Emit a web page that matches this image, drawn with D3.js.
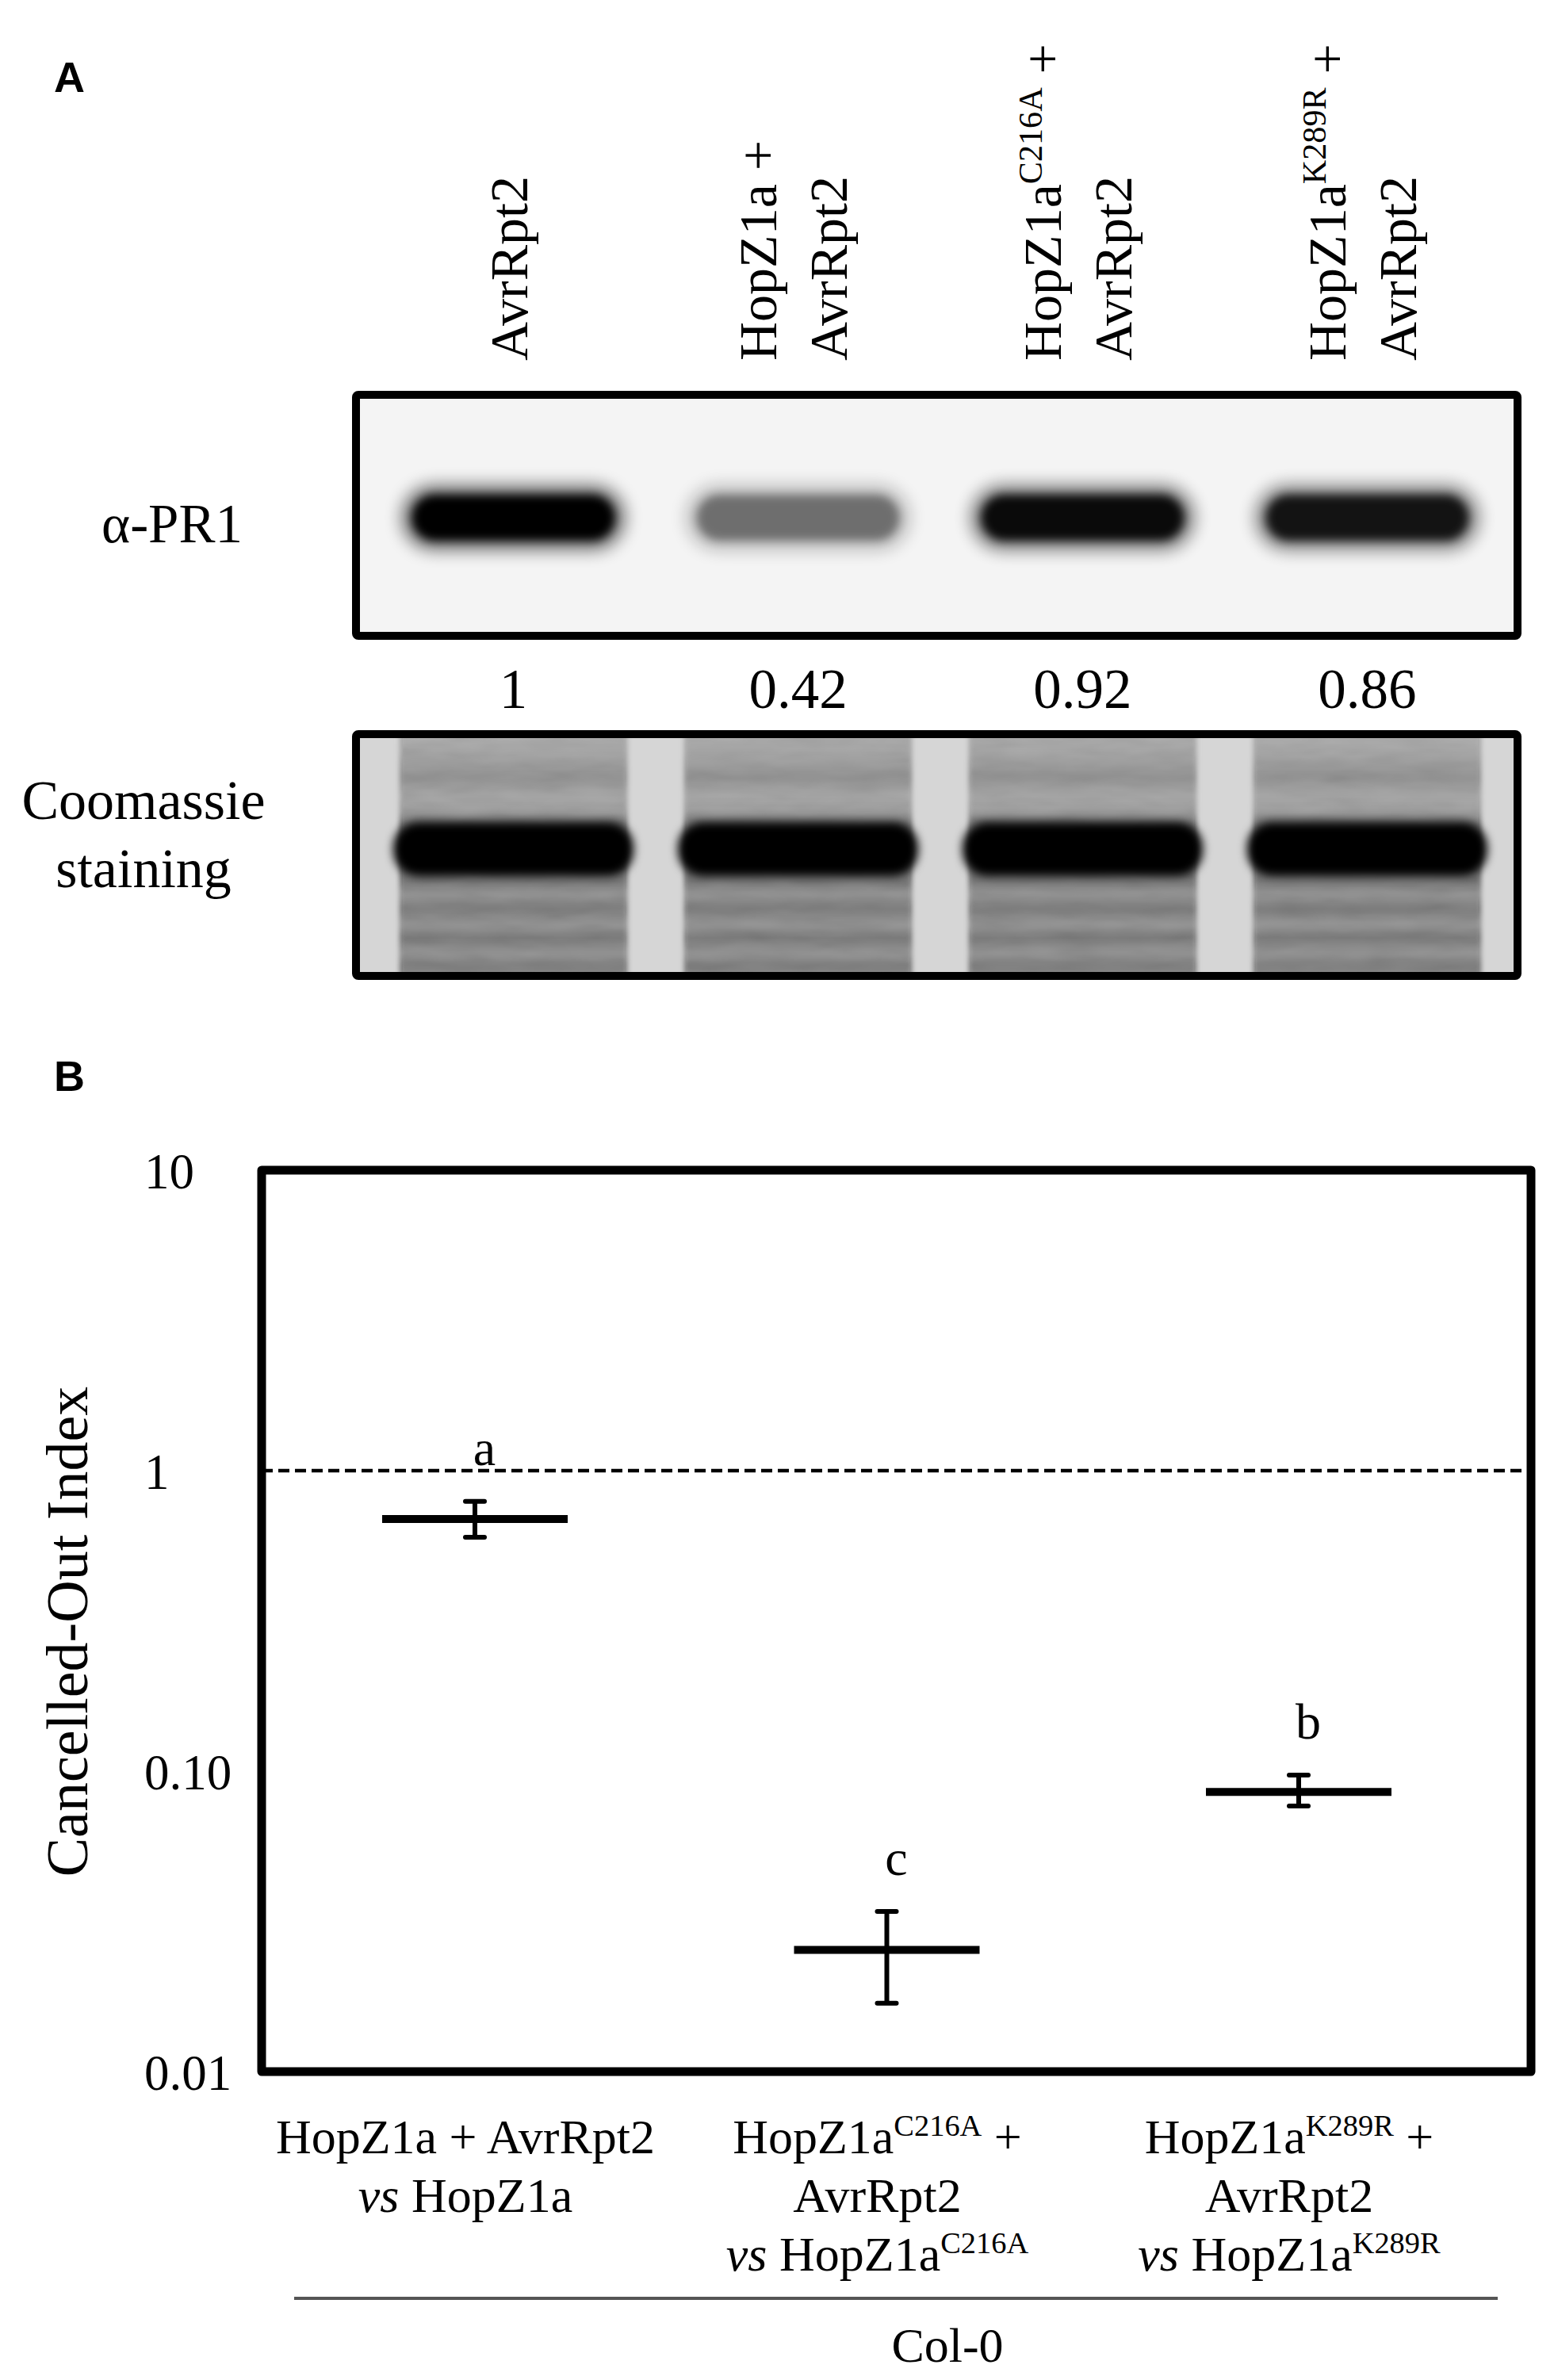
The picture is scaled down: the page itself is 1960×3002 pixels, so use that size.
<!DOCTYPE html>
<html>
<head>
<meta charset="utf-8">
<title>PR1 accumulation and Cancelled-Out Index</title>
<script src="https://cdn.jsdelivr.net/npm/d3@7"></script>
<style>
  body { margin: 0; background: #fff; }
  text { font-family: "Liberation Serif", "Times New Roman", serif; fill: #000; white-space: pre; }
  .panel { font-family: "Liberation Sans", Arial, sans-serif; font-weight: bold; }
</style>
</head>
<body>
<script>
// ---- panel A data ----
var lanes = ["AvrRpt2", "HopZ1a + AvrRpt2", "HopZ1aC216A + AvrRpt2", "HopZ1aK289R + AvrRpt2"];
var laneLabels = [
  [[{t: "AvrRpt2"}]],
  [[{t: "HopZ1a +"}], [{t: "AvrRpt2"}]],
  [[{t: "HopZ1a"}, {t: "C216A", sup: true}, {t: " +"}], [{t: "AvrRpt2"}]],
  [[{t: "HopZ1a"}, {t: "K289R", sup: true}, {t: " +"}], [{t: "AvrRpt2"}]]
];
var pr1Ratio = [1, 0.42, 0.92, 0.86];
var ratioLabels = ["1", "0.42", "0.92", "0.86"];

// ---- panel B data ----
var groups = ["g1", "g2", "g3"];
var groupLabels = [
  [[{t: "HopZ1a + AvrRpt2"}], [{t: "vs", it: true}, {t: " HopZ1a"}]],
  [[{t: "HopZ1a"}, {t: "C216A", sup: true}, {t: " +"}], [{t: "AvrRpt2"}], [{t: "vs", it: true}, {t: " HopZ1a"}, {t: "C216A", sup: true}]],
  [[{t: "HopZ1a"}, {t: "K289R", sup: true}, {t: " +"}], [{t: "AvrRpt2"}], [{t: "vs", it: true}, {t: " HopZ1a"}, {t: "K289R", sup: true}]]
];
var coiMean = [0.69, 0.0254, 0.0853];
var coiLow  = [0.60, 0.0169, 0.0765];
var coiHigh = [0.79, 0.0341, 0.097];
var sigLetters = ["a", "c", "b"];
var yTicks = [0.01, 0.1, 1, 10];
var yTickLabels = ["0.01", "0.10", "1", "10"];

var W = 1960, H = 3002;
var svg = d3.select("body").append("svg").attr("width", W).attr("height", H);
var defs = svg.append("defs");

function blur(id, sd) {
  defs.append("filter").attr("id", id)
    .attr("x", "-50%").attr("y", "-50%").attr("width", "200%").attr("height", "200%")
    .append("feGaussianBlur").attr("stdDeviation", sd);
}
blur("b10", 10); blur("b6", 6); blur("b3", 3);

// mottled texture for the stained gel
var nf = defs.append("filter").attr("id", "mottle").attr("x", 0).attr("y", 0).attr("width", "100%").attr("height", "100%");
nf.append("feTurbulence").attr("type", "fractalNoise").attr("baseFrequency", "0.018 0.07")
  .attr("numOctaves", 2).attr("seed", 7);
nf.append("feColorMatrix").attr("type", "matrix")
  .attr("values", "0.33 0.33 0.33 0 0  0.33 0.33 0.33 0 0  0.33 0.33 0.33 0 0  0 0 0 0 1");

// write a line made of plain / superscript / italic pieces
function richLine(sel, segs, fs) {
  var up = 0;
  segs.forEach(function(s) {
    var ts = sel.append("tspan").text(s.t);
    if (s.sup) {
      ts.attr("font-size", fs * 0.62).attr("dy", -fs * 0.36);
      up = fs * 0.36;
    } else {
      if (up) { ts.attr("dy", up); up = 0; }
      if (s.it) ts.attr("font-style", "italic");
    }
  });
}

// ================= PANEL A =================
svg.append("text").attr("class", "panel").attr("x", 68).attr("y", 116)
  .style("font-size", "54px").text("A");

var lane = d3.scaleBand().domain(lanes).range([504, 1868]).paddingInner(0.2);
function lc(d) { return lane(d) + lane.bandwidth() / 2; }

// rotated lane labels
var labFs = 68, labGap = 89;
laneLabels.forEach(function(lines, i) {
  var n = lines.length;
  lines.forEach(function(segs, j) {
    var cx = lc(lanes[i]) + (j - (n - 1) / 2) * labGap + 17;
    var t = svg.append("text")
      .attr("transform", "translate(" + cx + ",455) rotate(-90)")
      .style("font-size", labFs + "px");
    richLine(t, segs, labFs);
  });
});

// blot 1 : anti-PR1
var blot1 = {x: 449, y: 498, w: 1465, h: 304};
defs.append("clipPath").attr("id", "clip1").append("rect")
  .attr("x", blot1.x).attr("y", blot1.y).attr("width", blot1.w).attr("height", blot1.h);
var g1 = svg.append("g").attr("clip-path", "url(#clip1)");
g1.append("rect").attr("x", blot1.x).attr("y", blot1.y).attr("width", blot1.w).attr("height", blot1.h)
  .attr("fill", "#f4f4f4");

var bandY = 653;
var opac = d3.scaleLinear().domain([0, 1]).range([0, 1]);
g1.selectAll("rect.halo").data(pr1Ratio).enter().append("rect").attr("class", "halo")
  .attr("x", function(d, i) { return lc(lanes[i]) - 142; })
  .attr("y", bandY - 42).attr("width", 284).attr("height", 84).attr("rx", 42)
  .attr("fill", "#000").attr("opacity", function(d) { return opac(d) * 0.5; })
  .attr("filter", "url(#b10)");
g1.selectAll("rect.core").data(pr1Ratio).enter().append("rect").attr("class", "core")
  .attr("x", function(d, i) { return lc(lanes[i]) - 128; })
  .attr("y", bandY - 29).attr("width", 256).attr("height", 58).attr("rx", 29)
  .attr("fill", "#000").attr("opacity", function(d) { return opac(d); })
  .attr("filter", "url(#b6)");

svg.append("rect").attr("x", blot1.x).attr("y", blot1.y).attr("width", blot1.w).attr("height", blot1.h)
  .attr("fill", "none").attr("stroke", "#000").attr("stroke-width", 10).attr("rx", 3);

svg.append("text").attr("x", 217).attr("y", 684).attr("text-anchor", "middle")
  .style("font-size", "69px").text("\u03b1-PR1");

// quantification
svg.selectAll("text.ratio").data(ratioLabels).enter().append("text").attr("class", "ratio")
  .attr("x", function(d, i) { return lc(lanes[i]); }).attr("y", 893)
  .attr("text-anchor", "middle").style("font-size", "71px").text(function(d) { return d; });

// blot 2 : Coomassie
var blot2 = {x: 449, y: 926, w: 1465, h: 305};
defs.append("clipPath").attr("id", "clip2").append("rect")
  .attr("x", blot2.x).attr("y", blot2.y).attr("width", blot2.w).attr("height", blot2.h);
var lg = defs.append("linearGradient").attr("id", "laneGrad")
  .attr("x1", 0).attr("y1", 0).attr("x2", 0).attr("y2", 1);
[[0, "#a8a8a8"], [0.1, "#a2a2a2"], [0.2, "#8a8a8a"], [0.27, "#a2a2a2"], [0.33, "#989898"],
 [0.38, "#6a6a6a"], [0.6, "#6a6a6a"], [0.65, "#8e8e8e"], [0.71, "#707070"], [0.77, "#909090"],
 [0.82, "#6e6e6e"], [0.88, "#8e8e8e"], [0.93, "#727272"], [1, "#8a8a8a"]]
  .forEach(function(s) { lg.append("stop").attr("offset", s[0]).attr("stop-color", s[1]); });

var g2 = svg.append("g").attr("clip-path", "url(#clip2)");
g2.append("rect").attr("x", blot2.x).attr("y", blot2.y).attr("width", blot2.w).attr("height", blot2.h)
  .attr("fill", "#d6d6d6");
g2.append("line").attr("x1", blot2.x).attr("x2", blot2.x + blot2.w).attr("y1", 1068).attr("y2", 1068)
  .attr("stroke", "#a8a8a8").attr("stroke-width", 3).attr("filter", "url(#b3)");
var laneG = g2.append("g");
laneG.selectAll("rect.lane").data(lanes).enter().append("rect").attr("class", "lane")
  .attr("x", function(d) { return lane(d); }).attr("y", blot2.y - 10)
  .attr("width", lane.bandwidth()).attr("height", blot2.h + 20)
  .attr("fill", "url(#laneGrad)").attr("filter", "url(#b3)");
laneG.selectAll("rect.tex").data(lanes).enter().append("rect").attr("class", "tex")
  .attr("x", function(d) { return lane(d) + 4; }).attr("y", blot2.y)
  .attr("width", lane.bandwidth() - 8).attr("height", blot2.h)
  .attr("filter", "url(#mottle)").attr("opacity", 0.14);
g2.selectAll("rect.rubisco").data(lanes).enter().append("rect").attr("class", "rubisco")
  .attr("x", function(d) { return lane(d) - 8; }).attr("y", 1037)
  .attr("width", lane.bandwidth() + 16).attr("height", 68).attr("rx", 32)
  .attr("fill", "#050505").attr("filter", "url(#b6)");

svg.append("rect").attr("x", blot2.x).attr("y", blot2.y).attr("width", blot2.w).attr("height", blot2.h)
  .attr("fill", "none").attr("stroke", "#000").attr("stroke-width", 10).attr("rx", 3);

svg.append("text").attr("x", 181).attr("y", 1033).attr("text-anchor", "middle")
  .style("font-size", "70px").text("Coomassie");
svg.append("text").attr("x", 181).attr("y", 1119).attr("text-anchor", "middle")
  .style("font-size", "70px").text("staining");

// ================= PANEL B =================
svg.append("text").attr("class", "panel").attr("x", 68).attr("y", 1376)
  .style("font-size", "54px").text("B");

var plot = {x0: 330, x1: 1931, y0: 1476, y1: 2613};
var y = d3.scaleLog().domain([0.01, 10]).range([plot.y1, plot.y0]);
var x = d3.scalePoint().domain(groups).range([599, 1638]);

// reference line at 1
svg.append("line").attr("x1", plot.x0).attr("x2", plot.x1)
  .attr("y1", y(1)).attr("y2", y(1))
  .attr("stroke", "#000").attr("stroke-width", 4.5).attr("stroke-dasharray", "14,7");

// y axis tick labels (left aligned, like the original)
var yAxis = d3.axisLeft(y).tickValues(yTicks)
  .tickFormat(function(d, i) { return yTickLabels[i]; }).tickSize(0);
var ax = svg.append("g").attr("transform", "translate(" + plot.x0 + ",0)").call(yAxis);
ax.select(".domain").remove();
ax.selectAll("text").attr("x", 182 - plot.x0).attr("text-anchor", "start")
  .attr("dy", "0.35em").attr("fill", "#000")
  .style("font-family", "'Liberation Serif', 'Times New Roman', serif").style("font-size", "63px");

svg.append("text").attr("transform", "translate(110," + 2058 + ") rotate(-90)")
  .attr("text-anchor", "middle").style("font-size", "74px").text("Cancelled-Out Index");

// error bars
var eb = svg.append("g");
groups.forEach(function(g, i) {
  var cx = x(g);
  eb.append("line").attr("x1", cx).attr("x2", cx).attr("y1", y(coiLow[i])).attr("y2", y(coiHigh[i]))
    .attr("stroke", "#000").attr("stroke-width", 6);
  [coiLow[i], coiHigh[i]].forEach(function(v) {
    eb.append("line").attr("x1", cx - 12).attr("x2", cx + 12).attr("y1", y(v)).attr("y2", y(v))
      .attr("stroke", "#000").attr("stroke-width", 6).attr("stroke-linecap", "round");
  });
  eb.append("line").attr("x1", cx - 117).attr("x2", cx + 117).attr("y1", y(coiMean[i])).attr("y2", y(coiMean[i]))
    .attr("stroke", "#000").attr("stroke-width", 10);
  svg.append("text").attr("x", cx + 12).attr("y", y(coiHigh[i]) - 46)
    .attr("text-anchor", "middle").style("font-size", "64px").text(sigLetters[i]);
});

svg.append("rect").attr("x", plot.x0).attr("y", plot.y0)
  .attr("width", plot.x1 - plot.x0).attr("height", plot.y1 - plot.y0)
  .attr("fill", "none").attr("stroke", "#000").attr("stroke-width", 11).attr("stroke-linejoin", "round");

// category labels
var catFs = 62;
groupLabels.forEach(function(lines, i) {
  lines.forEach(function(segs, j) {
    var t = svg.append("text").attr("x", x(groups[i]) - 12).attr("y", 2716 + j * 74)
      .attr("text-anchor", "middle").style("font-size", catFs + "px");
    richLine(t, segs, catFs);
  });
});

svg.append("line").attr("x1", 371).attr("x2", 1889).attr("y1", 2899).attr("y2", 2899)
  .attr("stroke", "#555").attr("stroke-width", 4);
svg.append("text").attr("x", 1195).attr("y", 2979).attr("text-anchor", "middle")
  .style("font-size", "62px").text("Col-0");
</script>
</body>
</html>
